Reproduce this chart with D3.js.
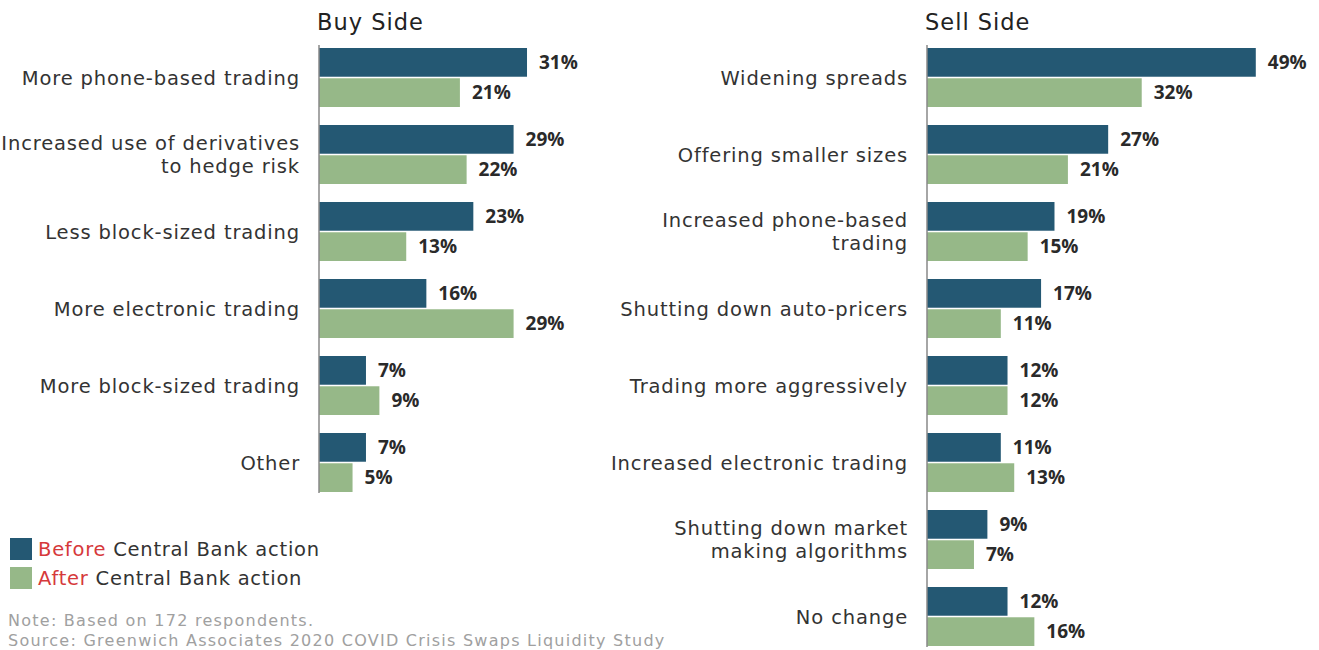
<!DOCTYPE html>
<html><head><meta charset="utf-8">
<script src="https://cdn.jsdelivr.net/npm/d3@7"></script>
<style>body{margin:0;background:#fff}svg{display:block}text{font-family:"DejaVu Sans",sans-serif}text.val{font-family:"Open Sans",sans-serif;font-weight:bold}</style>
</head><body><svg id="c" width="1319" height="650"></svg>
<script>
const buyCategories = ["More phone-based trading","Increased use of derivatives\nto hedge risk","Less block-sized trading","More electronic trading","More block-sized trading","Other"];
const buyBefore = [31,29,23,16,7,7];
const buyAfter = [21,22,13,29,9,5];
const sellCategories = ["Widening spreads","Offering smaller sizes","Increased phone-based\ntrading","Shutting down auto-pricers","Trading more aggressively","Increased electronic trading","Shutting down market\nmaking algorithms","No change"];
const sellBefore = [49,27,19,17,12,11,9,12];
const sellAfter = [32,21,15,11,12,13,7,16];
const seriesNames = ["Before","After"];
const legendSuffix = " Central Bank action";
const panelTitles = ["Buy Side","Sell Side"];
const notes = ["Note: Based on 172 respondents.","Source: Greenwich Associates 2020 COVID Crisis Swaps Liquidity Study"];

const colors = ["#245873","#96b888"];
const svg = d3.select("#c");
const pxPerPct = 6.71;
const step = 77;

function panel(title, cats, before, after, x0, labelX) {
  const n = cats.length;
  const yb = i => 48 + i*step;
  const x = d3.scaleLinear().domain([0, 1]).range([x0, x0 + pxPerPct]);
  const g = svg.append("g");
  g.append("text").attr("x", x0 - 2).attr("y", 30).attr("font-size", 22.5).attr("letter-spacing", 1).attr("fill", "#222").text(title);
  const sub = d3.scaleBand().domain([0,1]).range([0,59]).paddingInner(3/59);
  cats.forEach((c, i) => {
    [before[i], after[i]].forEach((v, s) => {
      const top = yb(i) + sub(s);
      g.append("rect").attr("x", x(0)).attr("y", top).attr("width", x(v) - x(0)).attr("height", sub.bandwidth()).attr("fill", colors[s]);
      g.append("text").attr("class", "val").attr("x", x(v) + 12).attr("y", top + sub.bandwidth()/2).attr("dy", "0.36em")
        .attr("font-size", 19).attr("fill", "#2a2a2a").text(v + "%");
    });
    const lines = c.split("\n");
    const cy = yb(i) + 29.5;
    const t = g.append("text").attr("text-anchor", "end").attr("font-size", 19.5).attr("letter-spacing", 0.85).attr("fill", "#333");
    lines.forEach((l, k) => {
      t.append("tspan").attr("x", labelX).attr("y", cy + (k - (lines.length-1)/2) * 23).attr("dy", "0.36em").text(l);
    });
  });
  g.append("line").attr("x1", x0).attr("x2", x0).attr("y1", 45).attr("y2", 48 + step*(n-1) + 59 + 1).attr("stroke", "#888").attr("stroke-width", 1.5);
}

panel(panelTitles[0], buyCategories, buyBefore, buyAfter, 319, 300);
panel(panelTitles[1], sellCategories, sellBefore, sellAfter, 927, 908);

seriesNames.forEach((s, i) => {
  const yy = 538 + i*29;
  svg.append("rect").attr("x", 10).attr("y", yy).attr("width", 22).attr("height", 22).attr("fill", colors[i]);
  const t = svg.append("text").attr("x", 38).attr("y", yy + 11).attr("dy", "0.36em").attr("font-size", 19.5).attr("letter-spacing", 0.75).attr("fill", "#333");
  t.append("tspan").attr("fill", "#d6393b").text(s);
  t.append("tspan").text(legendSuffix);
});
notes.forEach((n, i) => {
  svg.append("text").attr("x", 8).attr("y", 626 + i*20).attr("font-size", 16).attr("letter-spacing", 1.25).attr("fill", "#a0a0a0").text(n);
});
</script></body></html>
